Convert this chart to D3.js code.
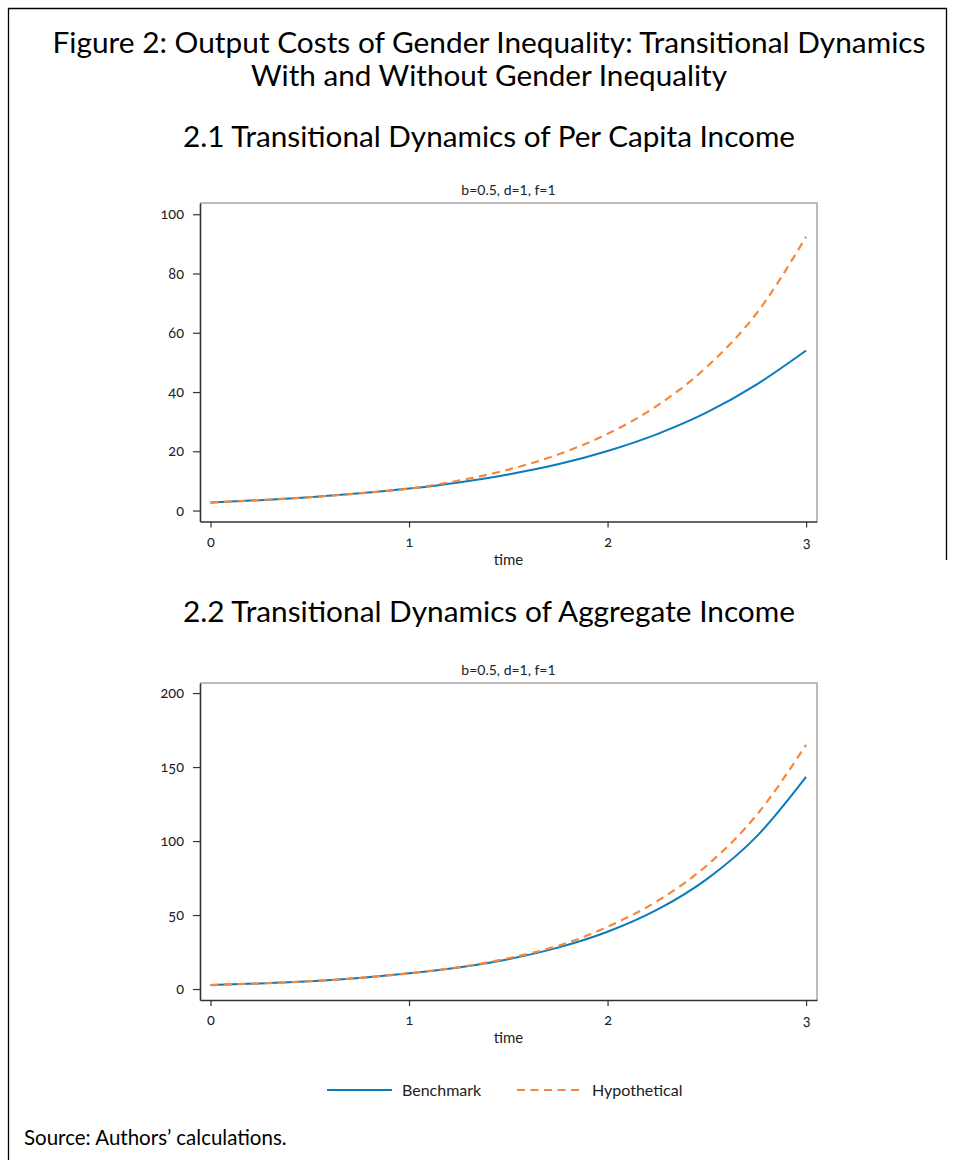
<!DOCTYPE html>
<html>
<head>
<meta charset="utf-8">
<script src="https://cdn.jsdelivr.net/npm/d3@7"></script>
<style>
  body { margin: 0; background: #fff; }
  svg { display: block; font-family: Lato, "Open Sans", sans-serif; }
  .tick text { font-variant-numeric: oldstyle-nums; }
</style>
</head>
<body>
<svg id="fig" width="958" height="1160"></svg>
<script>
'use strict';

// values
var times = [0, 0.25, 0.5, 0.75, 1, 1.25, 1.5, 1.75, 2, 2.25, 2.5, 2.75, 3];
var perCapitaBenchmark    = [2.7, 3.5, 4.5, 5.8, 7.4, 9.5, 12.2, 15.6, 20.1, 25.8, 33.1, 42.5, 54.0];
var perCapitaHypothetical = [2.7, 3.5, 4.5, 5.8, 7.4, 10.1, 13.8, 18.9, 25.9, 35.4, 48.5, 66.5, 92.4];
var aggregateBenchmark    = [2.7, 3.8, 5.3, 7.5, 10.6, 14.6, 20.2, 28.0, 38.7, 53.6, 74.3, 103.0, 143.4];
var aggregateHypothetical = [2.7, 3.8, 5.3, 7.5, 10.6, 14.8, 20.8, 29.2, 42.1, 59.4, 83.5, 117.5, 165.0];

var timeTicks = [0, 1, 2, 3];
var perCapitaTicks = [0, 20, 40, 60, 80, 100];
var aggregateTicks = [0, 50, 100, 150, 200];
var seriesNames = ['Benchmark', 'Hypothetical'];

var blue = '#0a7bbb',
    orange = '#f5883a',
    ink = '#222';

var svg = d3.select('#fig');

// page frame (left, top and a piece of the right edge)
svg.append('path')
    .attr('d', 'M8.5,1160V8.5H946.5V560')
    .attr('fill', 'none')
    .attr('stroke', '#000')
    .attr('stroke-width', 1.3);

function heading(text, y, width, size) {
  svg.append('text')
      .attr('x', 489)
      .attr('y', y)
      .attr('text-anchor', 'middle')
      .attr('textLength', width)
      .attr('lengthAdjust', 'spacingAndGlyphs')
      .style('font-size', size + 'px')
      .style('fill', '#000')
      .text(text);
}

heading('Figure 2: Output Costs of Gender Inequality: Transitional Dynamics', 53, 873, 28);
heading('With and Without Gender Inequality', 86, 476, 28);
heading('2.1 Transitional Dynamics of Per Capita Income', 147, 612, 28);
heading('2.2 Transitional Dynamics of Aggregate Income', 622, 612, 28);

function drawPanel(top, bottom, yDomain, yTicks, bench, hypo) {
  var left = 200, right = 817;

  var x = d3.scaleLinear().domain([-0.053, 3.055]).range([left, right]);
  var y = d3.scaleLinear().domain(yDomain).range([bottom, top]);

  var g = svg.append('g');

  // light top / right spines
  g.append('path')
      .attr('d', 'M' + left + ',' + top + 'H' + right + 'V' + bottom)
      .attr('fill', 'none')
      .attr('stroke', '#a6a6a6')
      .attr('stroke-width', 1.5);

  var line = d3.line()
      .x(function(d) { return x(d.t); })
      .y(function(d) { return y(d.v); })
      .curve(d3.curveMonotoneX);

  var rows = [bench, hypo].map(function(vals) {
    return times.map(function(t, i) { return { t: t, v: vals[i] }; });
  });

  g.append('path')
      .datum(rows[0])
      .attr('d', line)
      .attr('fill', 'none')
      .attr('stroke', blue)
      .attr('stroke-width', 2);
  g.append('path')
      .datum(rows[1])
      .attr('d', line)
      .attr('fill', 'none')
      .attr('stroke', orange)
      .attr('stroke-width', 2.2)
      .attr('stroke-dasharray', '8,5.5');

  var xAxis = g.append('g')
      .attr('transform', 'translate(0,' + bottom + ')')
      .call(d3.axisBottom(x).tickValues(timeTicks).tickFormat(d3.format('d'))
        .tickSize(6).tickPadding(9).tickSizeOuter(0));
  var yAxis = g.append('g')
      .attr('transform', 'translate(' + left + ',0)')
      .call(d3.axisLeft(y).tickValues(yTicks).tickSize(7).tickPadding(9).tickSizeOuter(0));

  [xAxis, yAxis].forEach(function(ax) {
    ax.select('.domain').attr('stroke', '#333').attr('stroke-width', 1.6);
    ax.selectAll('.tick line').attr('stroke', '#333').attr('stroke-width', 1.2);
    ax.selectAll('.tick text')
        .style('font-size', '14.5px')
        .style('font-family', 'Lato, sans-serif')
        .attr('fill', ink);
  });

  g.append('text')
      .attr('x', (left + right) / 2)
      .attr('y', top - 8)
      .attr('text-anchor', 'middle')
      .style('font-size', '14px')
      .style('fill', ink)
      .text('b=0.5, d=1, f=1');

  g.append('text')
      .attr('x', (left + right) / 2)
      .attr('y', bottom + 43)
      .attr('text-anchor', 'middle')
      .style('font-size', '15px')
      .style('fill', ink)
      .text('time');
}

drawPanel(203, 521.5, [-3.7, 103.8], perCapitaTicks, perCapitaBenchmark, perCapitaHypothetical);
drawPanel(683, 1000, [-7.4, 206.8], aggregateTicks, aggregateBenchmark, aggregateHypothetical);

// legend
var legend = svg.append('g')
    .selectAll('g')
    .data(seriesNames)
  .enter().append('g')
    .attr('transform', function(d, i) { return 'translate(' + (327 + i * 190) + ',1090)'; });
legend.append('line')
    .attr('x1', 0).attr('x2', 65)
    .attr('stroke', function(d, i) { return i ? orange : blue; })
    .attr('stroke-width', 2)
    .attr('stroke-dasharray', function(d, i) { return i ? '8,5.5' : null; });
legend.append('text')
    .attr('x', 75)
    .attr('dy', '0.35em')
    .style('font-size', '16px')
    .style('fill', ink)
    .text(function(d) { return d; });

svg.append('text')
    .attr('x', 24)
    .attr('y', 1145)
    .style('font-size', '20.5px')
    .style('fill', '#000')
    .text('Source: Authors\u2019 calculations.');
</script>
</body>
</html>
